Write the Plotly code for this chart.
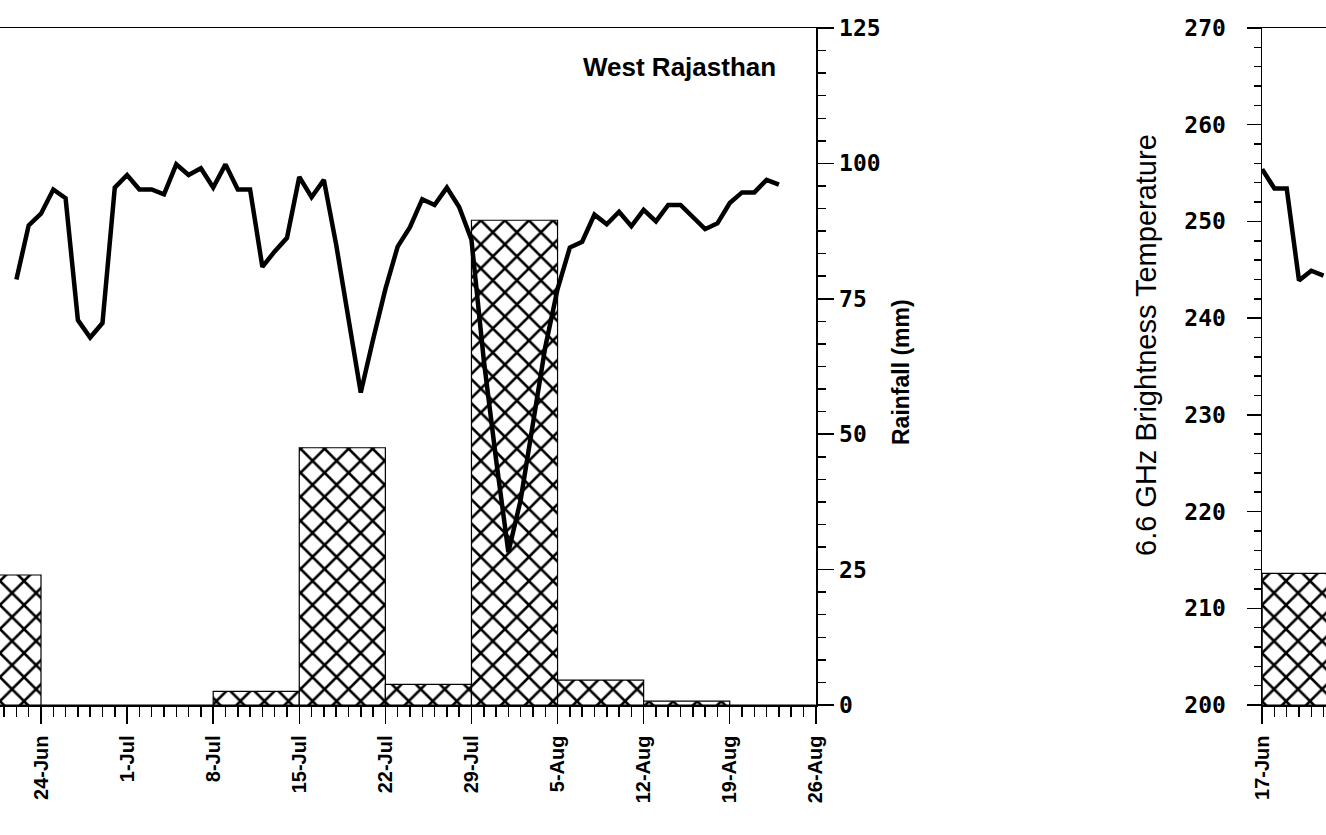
import plotly.graph_objects as go
import pandas as pd

# ---------------- data ----------------
# Left panel (West Rajasthan): daily 6.6 GHz brightness temperature (K)
bt_west_start = "2004-06-22"
bt_west = [244.0, 249.6, 250.8, 253.3, 252.4, 239.8, 238.0, 239.5, 253.5, 254.8,
           253.3, 253.3, 252.8, 255.9, 254.8, 255.5, 253.5, 255.9, 253.3, 253.3,
           245.3, 246.9, 248.3, 254.6, 252.5, 254.3, 247.6, 240.2, 232.3, 237.8,
           243.0, 247.4, 249.4, 252.3, 251.7, 253.5, 251.5, 248.1, 235.7, 225.4,
           215.8, 221.2, 229.2, 237.0, 243.0, 247.3, 247.9, 250.7, 249.7, 251.0,
           249.5, 251.2, 250.0, 251.7, 251.7, 250.4, 249.2, 249.8, 251.9, 253.0,
           253.0, 254.3, 253.8]
bt_west_dates = pd.date_range(bt_west_start, periods=len(bt_west), freq="D")

# Weekly rainfall (mm), bars start at the given week
week_starts = ["2004-06-17", "2004-06-24", "2004-07-01", "2004-07-08", "2004-07-15",
               "2004-07-22", "2004-07-29", "2004-08-05", "2004-08-12", "2004-08-19"]
rain_west = [24.0, 0, 0, 2.5, 47.5, 3.8, 89.5, 4.6, 0.7, 0]

# Right panel (partially visible)
bt_right_start = "2004-06-17"
bt_right = [255.4, 253.4, 253.4, 243.9, 244.9, 244.4]
bt_right_dates = pd.date_range(bt_right_start, periods=len(bt_right), freq="D")
right_week_starts = ["2004-06-17"]
rain_right = [24.3]

panel_title = "West Rajasthan"
rain_title = "Rainfall (mm)"
bt_title = "6.6 GHz Brightness Temperature"

# ---------------- styling ----------------
W, H = 1326, 835
M_T = 28
PLOT_BOTTOM = 705
M_B = H - PLOT_BOTTOM
PLOT_H = PLOT_BOTTOM - M_T
DAY = 86400000
WEEK = 7 * DAY


def px(x):
    return x / W


def py(y):
    return (PLOT_BOTTOM - y) / PLOT_H


num_font = dict(family="DejaVu Sans Mono, Liberation Mono, monospace", size=23,
                color="black", weight="bold")
date_font = dict(family="Liberation Sans, Arial, sans-serif", size=20,
                 color="black", weight="bold")

pattern = dict(shape="x", fgcolor="black", bgcolor="white", size=17, solidity=0.28)

fig = go.Figure()

fig.add_trace(go.Bar(
    x=week_starts, y=rain_west, width=[WEEK] * len(week_starts), offset=0,
    marker=dict(color="white", pattern=pattern, line=dict(color="black", width=1.2)),
    xaxis="x", yaxis="y", showlegend=False, hoverinfo="skip"))
fig.add_trace(go.Scatter(
    x=bt_west_dates, y=bt_west, mode="lines",
    line=dict(color="black", width=4.5), xaxis="x", yaxis="y2", showlegend=False,
    hoverinfo="skip"))

fig.add_trace(go.Bar(
    x=right_week_starts, y=rain_right, width=[WEEK], offset=0,
    marker=dict(color="white", pattern=pattern, line=dict(color="black", width=1.2)),
    xaxis="x2", yaxis="y3", showlegend=False, hoverinfo="skip"))
fig.add_trace(go.Scatter(
    x=bt_right_dates, y=bt_right, mode="lines",
    line=dict(color="black", width=4.5), xaxis="x2", yaxis="y4", showlegend=False,
    hoverinfo="skip"))

xcommon = dict(
    type="date", tickformat="%-d-%b", tick0="2004-06-17", dtick=WEEK,
    ticks="outside", ticklen=17, tickwidth=1.5, tickcolor="black",
    showline=True, linecolor="black", linewidth=1.5, mirror=True,
    tickangle=-90, tickfont=date_font, ticklabelstandoff=4,
    minor=dict(dtick=DAY, tick0="2004-06-17", ticks="outside", ticklen=10,
               tickwidth=1.5, tickcolor="black"),
    showgrid=False, zeroline=False, automargin=False, fixedrange=True)

fig.update_layout(
    width=W, height=H,
    margin=dict(l=0, r=0, t=M_T, b=M_B, pad=0),
    paper_bgcolor="white", plot_bgcolor="white",
    template="none", bargap=0, barmode="overlay",
    xaxis=dict(xcommon, domain=[0, 816 / W],
               range=["2004-06-20 16:00", "2004-08-26 00:20"], anchor="y"),
    yaxis=dict(domain=[0, 1], anchor="x", side="right", range=[0, 125],
               tick0=0, dtick=25, ticks="outside", ticklen=16, tickwidth=1.5,
               tickcolor="black", showline=True, linecolor="black", linewidth=1.5,
               minor=dict(dtick=25 / 6, ticks="outside", ticklen=8, tickwidth=1.5,
                          tickcolor="black"),
               tickfont=num_font, ticklabelstandoff=1,
               showgrid=False, zeroline=False, automargin=False, fixedrange=True),
    yaxis2=dict(overlaying="y", anchor="x", range=[200, 270], visible=False,
                showgrid=False, zeroline=False, fixedrange=True),
    xaxis2=dict(xcommon, domain=[1262 / W, 1],
                range=["2004-06-16 23:40", "2004-06-22 04:51"], anchor="y3"),
    yaxis3=dict(domain=[0, 1], anchor="x2", range=[0, 125], visible=False,
                showgrid=False, zeroline=False, fixedrange=True),
    yaxis4=dict(overlaying="y3", anchor="x2", side="left", range=[200, 270],
                tick0=200, dtick=10, ticks="outside", ticklen=14, tickwidth=1.5,
                tickcolor="black", showline=True, linecolor="black", linewidth=1.5,
                minor=dict(dtick=2, ticks="outside", ticklen=7, tickwidth=1.5,
                           tickcolor="black"),
                tickfont=num_font, ticklabelstandoff=16,
                showgrid=False, zeroline=False, automargin=False, fixedrange=True),
    annotations=[
        dict(text=panel_title, xref="paper", yref="paper",
             x=px(680), y=py(67), xanchor="center", yanchor="middle",
             showarrow=False,
             font=dict(family="Liberation Sans, Arial, sans-serif", size=26,
                       color="black", weight="bold")),
        dict(text=rain_title, xref="paper", yref="paper",
             x=px(901), y=py(372), xanchor="center", yanchor="middle",
             textangle=-90, showarrow=False,
             font=dict(family="Liberation Sans, Arial, sans-serif", size=23,
                       color="black", weight="bold")),
        dict(text=bt_title, xref="paper", yref="paper",
             x=px(1146), y=py(345), xanchor="center", yanchor="middle",
             textangle=-90, showarrow=False,
             font=dict(family="Liberation Sans, Arial, sans-serif", size=29,
                       color="black")),
    ],
)

# remove the default page margin so the figure sits at the window's top-left corner
fig.write_html("out.html",
               config={"displayModeBar": False, "staticPlot": True},
               post_script="document.body.style.margin='0';document.body.style.overflow='hidden';")
